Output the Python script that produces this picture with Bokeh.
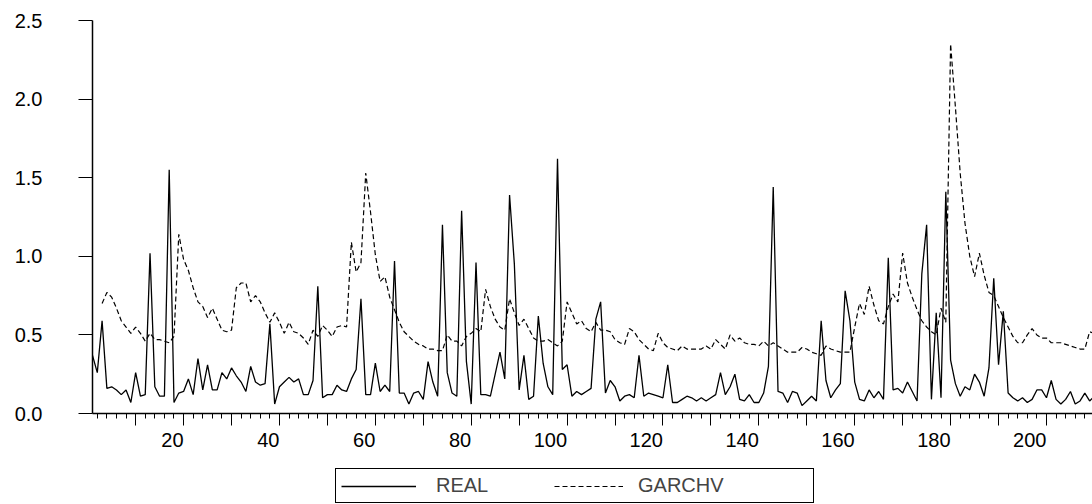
from bokeh.plotting import figure
from bokeh.layouts import column
from bokeh.models import Range1d, FixedTicker, NumeralTickFormatter, Legend, LegendItem, CustomJSTickFormatter
from bokeh.embed import file_html
from bokeh.resources import INLINE

# ---- data ----
real_x = list(range(1, 211))
real = [
    0.37, 0.26, 0.59, 0.16, 0.17, 0.15, 0.12, 0.15, 0.07, 0.26,
    0.11, 0.12, 1.02, 0.17, 0.11, 0.11, 1.55, 0.07, 0.13, 0.14,
    0.22, 0.12, 0.35, 0.15, 0.31, 0.15, 0.15, 0.26, 0.22, 0.29,
    0.24, 0.20, 0.14, 0.30, 0.20, 0.18, 0.19, 0.57, 0.06, 0.17,
    0.20, 0.23, 0.20, 0.22, 0.12, 0.12, 0.21, 0.81, 0.10, 0.12,
    0.12, 0.18, 0.15, 0.14, 0.22, 0.28, 0.73, 0.12, 0.12, 0.32,
    0.14, 0.18, 0.14, 0.97, 0.13, 0.13, 0.06, 0.13, 0.14, 0.09,
    0.33, 0.20, 0.11, 1.20, 0.26, 0.13, 0.11, 1.29, 0.33, 0.06,
    0.96, 0.12, 0.12, 0.11, 0.25, 0.39, 0.22, 1.39, 0.95, 0.15,
    0.37, 0.09, 0.11, 0.62, 0.32, 0.17, 0.12, 1.62, 0.28, 0.31,
    0.11, 0.14, 0.12, 0.14, 0.16, 0.60, 0.71, 0.13, 0.21, 0.17,
    0.08, 0.11, 0.12, 0.10, 0.37, 0.11, 0.13, 0.12, 0.11, 0.10,
    0.31, 0.07, 0.07, 0.09, 0.11, 0.10, 0.08, 0.10, 0.08, 0.10,
    0.12, 0.26, 0.12, 0.17, 0.25, 0.09, 0.08, 0.12, 0.07, 0.07,
    0.13, 0.30, 1.44, 0.14, 0.13, 0.07, 0.14, 0.13, 0.05, 0.08,
    0.11, 0.08, 0.59, 0.21, 0.10, 0.15, 0.19, 0.78, 0.59, 0.20,
    0.09, 0.08, 0.15, 0.10, 0.14, 0.09, 0.99, 0.15, 0.16, 0.13,
    0.20, 0.14, 0.08, 0.89, 1.20, 0.09, 0.64, 0.10, 1.41, 0.34,
    0.19, 0.11, 0.17, 0.15, 0.25, 0.20, 0.11, 0.29, 0.86, 0.31,
    0.65, 0.13, 0.10, 0.08, 0.10, 0.07, 0.09, 0.15, 0.15, 0.10,
    0.21, 0.09, 0.06, 0.09, 0.14, 0.06, 0.08, 0.13, 0.08, 0.11,
]
garch_x = list(range(3, 211))
garchv = [
    0.70, 0.77, 0.74, 0.67, 0.59, 0.55, 0.51, 0.55,
    0.51, 0.46, 0.51, 0.47, 0.47, 0.46, 0.45, 0.49, 1.14, 0.98,
    0.91, 0.80, 0.71, 0.68, 0.61, 0.67, 0.60, 0.53, 0.52, 0.53,
    0.80, 0.83, 0.83, 0.71, 0.75, 0.71, 0.64, 0.58, 0.64, 0.58,
    0.51, 0.58, 0.52, 0.51, 0.48, 0.44, 0.53, 0.49, 0.56, 0.53,
    0.49, 0.55, 0.56, 0.55, 1.09, 0.90, 0.96, 1.53, 1.28, 1.01,
    0.84, 0.87, 0.74, 0.66, 0.58, 0.52, 0.49, 0.46, 0.44, 0.43,
    0.41, 0.41, 0.40, 0.40, 0.50, 0.46, 0.46, 0.43, 0.49, 0.51,
    0.54, 0.52, 0.79, 0.68, 0.60, 0.55, 0.53, 0.73, 0.64, 0.56,
    0.60, 0.54, 0.48, 0.46, 0.46, 0.47, 0.45, 0.43, 0.46, 0.71,
    0.64, 0.57, 0.59, 0.54, 0.52, 0.58, 0.53, 0.53, 0.52, 0.47,
    0.45, 0.44, 0.54, 0.52, 0.47, 0.44, 0.41, 0.40, 0.51, 0.45,
    0.42, 0.41, 0.40, 0.43, 0.41, 0.41, 0.41, 0.41, 0.43, 0.41,
    0.47, 0.44, 0.41, 0.50, 0.46, 0.48, 0.45, 0.44, 0.44, 0.43,
    0.46, 0.43, 0.45, 0.43, 0.41, 0.39, 0.39, 0.39, 0.42, 0.41,
    0.39, 0.38, 0.37, 0.43, 0.41, 0.40, 0.39, 0.39, 0.39, 0.55,
    0.70, 0.63, 0.81, 0.69, 0.59, 0.57, 0.68, 0.76, 0.71, 1.02,
    0.83, 0.74, 0.66, 0.59, 0.55, 0.52, 0.50, 0.67, 0.58, 2.35,
    1.95, 1.53, 1.21, 1.00, 0.87, 1.02, 0.88, 0.77, 0.75, 0.68,
    0.61, 0.55, 0.49, 0.45, 0.45, 0.50, 0.54, 0.50, 0.48, 0.48,
    0.45, 0.45, 0.45, 0.44, 0.43, 0.42, 0.41, 0.41, 0.52, 0.51,
]
y_ticks = [0.0, 0.5, 1.0, 1.5, 2.0, 2.5]
x_major_ticks = list(range(10, 211, 10))
x_minor_ticks = list(range(2, 211, 2))
series_names = ["REAL", "GARCHV"]

FONT = "Liberation Sans"
REAL_STYLE = dict(line_color="black", line_width=1.3)
GARCH_STYLE = dict(line_color="black", line_width=1.2, line_dash="5 3")

# ---- main chart ----
p = figure(width=1092, height=465, output_backend="svg", toolbar_location=None,
           x_range=Range1d(1, 209.6), y_range=Range1d(0, 2.5),
           min_border_left=92, min_border_right=0, min_border_top=20,
           min_border_bottom=52)
p.outline_line_color = None
p.grid.visible = False

p.line(real_x, real, **REAL_STYLE)
p.line(garch_x, garchv, **GARCH_STYLE)

xa = p.xaxis[0]
xa.ticker = FixedTicker(ticks=x_major_ticks, minor_ticks=x_minor_ticks)
# labels every 20, right edge of the label at its tick (as in the reference)
xa.formatter = CustomJSTickFormatter(code="""
const v = Math.round(tick);
if (v % 20 != 0) { return ''; }
const s = String(v);
return s + '\\u00a0'.repeat(2 * s.length);
""")
xa.major_tick_out = 12
xa.major_tick_in = 0
xa.minor_tick_out = 5
xa.minor_tick_in = 0
xa.axis_line_width = 1.5
xa.major_label_standoff = 3
xa.major_label_text_font = FONT
xa.major_label_text_font_size = "20px"
xa.major_label_text_color = "black"

ya = p.yaxis[0]
ya.ticker = FixedTicker(ticks=y_ticks)
ya.formatter = NumeralTickFormatter(format="0.0")
ya.major_tick_out = 14
ya.major_tick_in = 0
ya.minor_tick_line_color = None
ya.axis_line_width = 1.5
ya.major_label_standoff = 36
ya.major_label_text_font = FONT
ya.major_label_text_font_size = "20px"
ya.major_label_text_color = "black"

# ---- legend strip (its lines sit outside its own ranges, only the legend shows) ----
p2 = figure(width=1092, height=39, output_backend="svg", toolbar_location=None,
            x_range=Range1d(-20, -10), y_range=Range1d(-20, -10),
            x_axis_type=None, y_axis_type=None,
            min_border_left=0, min_border_right=0, min_border_top=0, min_border_bottom=0)
p2.outline_line_color = None
p2.grid.visible = False
l1 = p2.line(real_x, real, **REAL_STYLE)
l2 = p2.line(garch_x, garchv, **GARCH_STYLE)

# framed legend box holding the first entry
leg1 = Legend(items=[LegendItem(label=series_names[0], renderers=[l1])],
              orientation="horizontal", location=(243, 1))
leg1.padding = 5
leg1.margin = 0
leg1.glyph_width = 75
leg1.label_standoff = 20
leg1.label_width = 372
leg1.label_text_font = FONT
leg1.label_text_font_size = "20px"
leg1.border_line_color = "black"
leg1.border_line_alpha = 1.0
leg1.border_line_width = 1
leg1.background_fill_alpha = 1.0
p2.add_layout(leg1)

# second entry, drawn inside the same box
leg2 = Legend(items=[LegendItem(label=series_names[1], renderers=[l2])],
              orientation="horizontal", location=(462, 7))
leg2.padding = 5
leg2.margin = 0
leg2.glyph_width = 69
leg2.label_standoff = 15
leg2.label_width = 20
leg2.label_text_font = FONT
leg2.label_text_font_size = "20px"
leg2.border_line_color = None
leg2.background_fill_alpha = 0.0
p2.add_layout(leg2)

layout = column(p, p2, spacing=0)
open("out.html", "w").write(file_html(layout, INLINE))
